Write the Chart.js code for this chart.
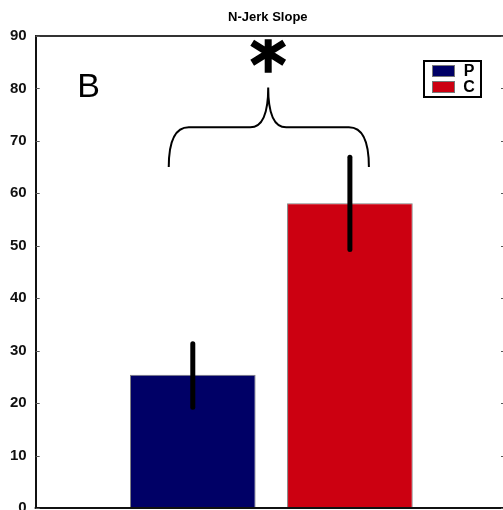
<!DOCTYPE html>
<html>
<head>
<meta charset="utf-8">
<script src="https://cdn.jsdelivr.net/npm/chart.js@4"></script>
<style>
    html, body { margin: 0; padding: 0; background: #fff; overflow: hidden; }
    #wrap { width: 503px; height: 510px; overflow: hidden; }
</style>
</head>
<body>
<div id="wrap"><canvas id="c" width="510" height="526"></canvas></div>
<script>
    // Data
    const categories = ['P', 'C'];
    const means = [25.4, 58.1];
    const errLow = [19.2, 49.3];
    const errHigh = [31.3, 66.9];
    const barColors = ['#000066', '#cc0011'];
    const yMin = 0, yMax = 90, yStep = 10;

    const titleText = 'N-Jerk Slope';
    const panelLetter = 'B';

    // padded category axis: empty slot either side of the two bars
    const labels = [''].concat(categories, ['']);
    const values = [null].concat(means, [null]);
    const colors = ['#fff'].concat(barColors, ['#fff']);

    const font = '"Liberation Sans", Arial, Helvetica, sans-serif';

    function xAt(chart, idx) {
        // fractional category index -> pixel
        const s = chart.scales.x;
        const i0 = Math.floor(idx), f = idx - i0;
        const p0 = s.getPixelForValue(i0);
        const p1 = s.getPixelForValue(i0 + 1);
        return p0 + (p1 - p0) * f;
    }

    const extras = {
        id: 'extras',
        afterDatasetsDraw(chart) {
            const ctx = chart.ctx;
            const a = chart.chartArea;
            const y = chart.scales.y;

            ctx.save();

            // error bars
            ctx.strokeStyle = '#000';
            ctx.lineWidth = 5;
            ctx.lineCap = 'round';
            categories.forEach((c, i) => {
                const px = chart.scales.x.getPixelForValue(i + 1);
                ctx.beginPath();
                ctx.moveTo(px, y.getPixelForValue(errLow[i]));
                ctx.lineTo(px, y.getPixelForValue(errHigh[i]));
                ctx.stroke();
            });

            // frame: top + bottom lines
            ctx.lineCap = 'butt';
            ctx.strokeStyle = '#333';
            ctx.lineWidth = 2;
            ctx.beginPath();
            ctx.moveTo(a.left, a.top);
            ctx.lineTo(a.right + 5, a.top);
            ctx.stroke();
            ctx.strokeStyle = '#111';
            ctx.beginPath();
            ctx.moveTo(a.left - 1, a.bottom);
            ctx.lineTo(a.right + 5, a.bottom);
            ctx.stroke();

            // inward tick marks on both sides
            ctx.strokeStyle = '#555';
            ctx.lineWidth = 1;
            for (let v = yMin; v <= yMax; v += yStep) {
                const py = Math.round(y.getPixelForValue(v)) + 0.5;
                ctx.beginPath();
                ctx.moveTo(a.left, py);
                ctx.lineTo(a.left + 4, py);
                ctx.moveTo(a.right, py);
                ctx.lineTo(a.right - 6, py);
                ctx.stroke();
            }

            // title
            ctx.fillStyle = '#000';
            ctx.font = 'bold 13px ' + font;
            ctx.textAlign = 'center';
            ctx.textBaseline = 'middle';
            ctx.fillText(titleText, (a.left + 500) / 2, 17);

            // panel letter
            ctx.font = '34px ' + font;
            ctx.fillStyle = '#000';
            ctx.fillText(panelLetter, a.left + 53, a.top + 52);

            // significance brace between the bars
            const xl = xAt(chart, 0.847), xr = xAt(chart, 2.121), xm = xAt(chart, 1.48);
            const yb = y.getPixelForValue(65.0), yh = y.getPixelForValue(72.6), yt = y.getPixelForValue(80.2);
            ctx.strokeStyle = '#000';
            ctx.lineWidth = 2;
            ctx.beginPath();
            ctx.moveTo(xl, yb);
            ctx.quadraticCurveTo(xl, yh, xl + 20, yh);
            ctx.lineTo(xm - 18, yh);
            ctx.quadraticCurveTo(xm, yh, xm, yt);
            ctx.quadraticCurveTo(xm, yh, xm + 18, yh);
            ctx.lineTo(xr - 20, yh);
            ctx.quadraticCurveTo(xr, yh, xr, yb);
            ctx.stroke();

            // asterisk: long vertical stem plus two diagonals
            const ac = y.getPixelForValue(86.8);
            ctx.lineWidth = 7;
            ctx.beginPath();
            ctx.moveTo(xm, y.getPixelForValue(89.4));
            ctx.lineTo(xm, y.getPixelForValue(83.0));
            ctx.moveTo(xm - 16, ac - 10);
            ctx.lineTo(xm + 16, ac + 10);
            ctx.moveTo(xm - 16, ac + 10);
            ctx.lineTo(xm + 16, ac - 10);
            ctx.stroke();

            // legend box
            const lx = a.right - 83, ly = a.top + 25;
            ctx.lineWidth = 2;
            ctx.strokeStyle = '#000';
            ctx.fillStyle = '#fff';
            ctx.fillRect(lx, ly, 57, 36);
            ctx.strokeRect(lx, ly, 57, 36);
            categories.forEach((c, i) => {
                const sy = ly + 4 + i * 16;
                ctx.fillStyle = barColors[i];
                ctx.fillRect(lx + 8, sy, 23, 12);
                ctx.lineWidth = 1;
                ctx.strokeStyle = '#777';
                ctx.strokeRect(lx + 8.5, sy + 0.5, 22, 11);
                ctx.fillStyle = '#000';
                ctx.font = 'bold 16px ' + font;
                ctx.textAlign = 'center';
                ctx.fillText(c, lx + 45, sy + 6.5);
            });

            ctx.restore();
        }
    };

    new Chart(document.getElementById('c'), {
        type: 'bar',
        data: {
            labels: labels,
            datasets: [{
                data: values,
                backgroundColor: colors,
                borderColor: '#808080',
                borderWidth: 1,
                barPercentage: 0.8,
                categoryPercentage: 1
            }]
        },
        options: {
            responsive: false,
            animation: false,
            devicePixelRatio: 1,
            layout: { padding: { top: 36, left: 1, right: 3, bottom: 12 } },
            plugins: {
                legend: { display: false },
                title: { display: false },
                tooltip: { enabled: false }
            },
            scales: {
                x: {
                    display: false,
                    offset: false
                },
                y: {
                    min: yMin,
                    max: yMax,
                    ticks: {
                        stepSize: yStep,
                        padding: 9,
                        color: '#111',
                        font: { family: font, size: 15, weight: 'bold' }
                    },
                    grid: { display: false, drawTicks: false },
                    border: { display: true, color: '#111', width: 2 }
                }
            }
        },
        plugins: [extras]
    });
</script>
</body>
</html>
